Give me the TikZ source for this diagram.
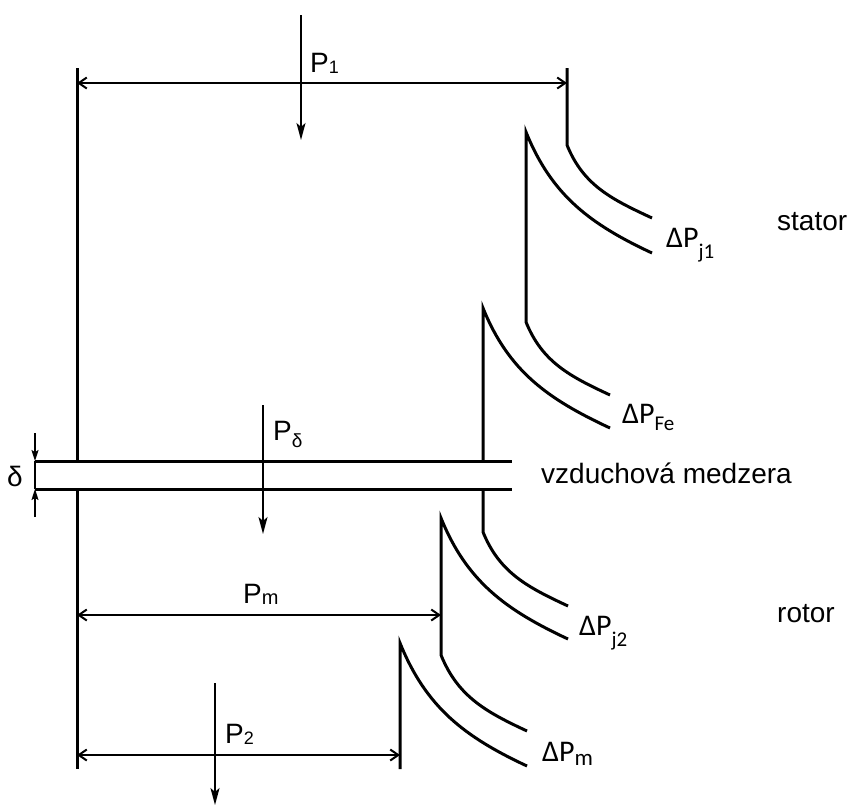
\documentclass[tikz,border=0pt]{standalone}
\usepackage{fontspec}
\setmainfont{Liberation Sans}
\newfontfamily\lossfont{Carlito}
\usetikzlibrary{arrows.meta}
\newcommand\psub[3]{\raisebox{-#1pt}{\fontsize{#2}{#2}\selectfont #3}}
\begin{document}
\begin{tikzpicture}[x=1pt,y=-1pt,
  wall/.style={line width=3pt},
  dim/.style={line width=2pt,{Straight Barb[length=8pt,width=11pt]}-{Straight Barb[length=8pt,width=11pt]}},
  flow/.style={line width=2pt,-{Stealth[length=17pt,width=9pt,inset=4pt]}},
  gapdim/.style={line width=1.5pt,-{Stealth[length=11pt,width=7pt,inset=2pt]}},
  lbl/.style={anchor=base west,inner sep=0pt,font=\fontsize{28}{30}\selectfont},
  loss/.style={anchor=base west,inner sep=0pt,font=\lossfont\fontsize{30}{32}\selectfont}]
  \useasboundingbox (0,0) rectangle (853,807);
  % stator
  \draw[wall] (77,68) -- (77,461);
  \draw[wall] (567,68) -- (567,145) to[out=-68,in=155] (652,218);
  \draw[wall] (652,253) to[out=155,in=-68] (526,132) -- (526,322) to[out=-68,in=155] (610,395);
  \draw[wall] (610,428) to[out=155,in=-68] (483,308) -- (483,461);
  % vzduchova medzera
  \draw[wall] (35,461) -- (512,461);
  \draw[wall] (35,489) -- (512,489);
  % rotor
  \draw[wall] (77,489) -- (77,769);
  \draw[wall] (483,489) -- (483,532) to[out=-68,in=155] (568,606);
  \draw[wall] (568,639) to[out=155,in=-68] (441,518) -- (441,655) to[out=-68,in=155] (527,731);
  \draw[wall] (527,766) to[out=155,in=-68] (400,643) -- (400,769);
  % dimension arrows
  \coordinate (d1a) at (77,83);  \coordinate (d1b) at (567,83);
  \coordinate (dma) at (77,615); \coordinate (dmb) at (441,615);
  \coordinate (d2a) at (77,755); \coordinate (d2b) at (400,755);
  \draw[dim] (d1a) -- (d1b);
  \draw[dim] (dma) -- (dmb);
  \draw[dim] (d2a) -- (d2b);
  % power flow
  \coordinate (f1a) at (301,15);  \coordinate (f1b) at (301,140);
  \coordinate (fda) at (263,405); \coordinate (fdb) at (263,534);
  \coordinate (f2a) at (215,683); \coordinate (f2b) at (215,805);
  \draw[flow] (f1a) -- (f1b);
  \draw[flow] (fda) -- (fdb);
  \draw[flow] (f2a) -- (f2b);
  % delta
  \coordinate (ga) at (35,433); \coordinate (gb) at (35,461);
  \coordinate (gc) at (35,489); \coordinate (gd) at (35,517);
  \draw[gapdim] (ga) -- (gb);
  \draw[gapdim] (gd) -- (gc);
  \draw[line width=1.5pt] (gb) -- (gc);
  % labels
  \node[lbl] (lP1) at (310,72) {P\psub{1}{18}{1}};
  \node[lbl] (lPd) at (273,440) {P\psub{7}{19}{δ}};
  \node[lbl] (lPm) at (243,603) {P\psub{1}{20}{m}};
  \node[lbl] (lP2) at (225,743) {P\psub{1}{18}{2}};
  \node[lbl] (ld) at (7,486) {δ};
  \node[lbl] (lgap) at (541,483) {vzduchová medzera};
  \node[lbl] (lst) at (777,230) {stator};
  \node[lbl] (lro) at (777,622) {rotor};
  \node[loss] (lj1) at (666,247) {ΔP\psub{11}{21}{j1}};
  \node[loss] (lfe) at (622,423) {ΔP\psub{7}{21}{Fe}};
  \node[loss] (lj2) at (579,635) {ΔP\psub{11}{21}{j2}};
  \node[loss] (lm) at (542,761) {ΔP\psub{4}{23}{m}};
\end{tikzpicture}
\end{document}
